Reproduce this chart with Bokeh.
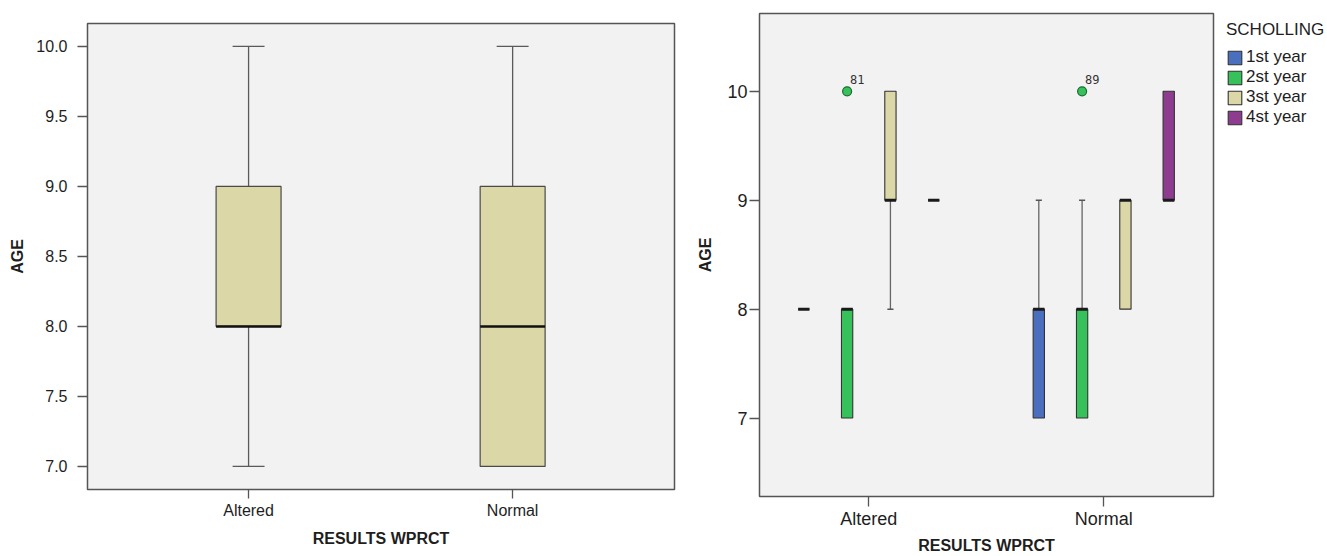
from bokeh.plotting import figure
from bokeh.layouts import row, column
from bokeh.models import FixedTicker, Range1d, Legend, LegendItem, ColumnDataSource
from bokeh.core.properties import value
from bokeh.embed import file_html
from bokeh.resources import INLINE

# ---------------- data ----------------
categories = ["Altered", "Normal"]

# left chart: AGE by RESULTS WPRCT
left_lower = [7, 7]
left_q1 = [8, 7]
left_median = [8, 8]
left_q3 = [9, 9]
left_upper = [10, 10]

# right chart: AGE by RESULTS WPRCT and SCHOLLING (rows = years, cols = categories)
years = ["1st year", "2st year", "3st year", "4st year"]
year_colors = ["#4b6fbf", "#37c15b", "#dbd7a7", "#8d3c90"]
r_lower = [[8, 7], [7, 7], [8, 8], [9, 9]]
r_q1 = [[8, 7], [7, 7], [9, 8], [9, 9]]
r_median = [[8, 8], [8, 8], [9, 9], [9, 9]]
r_q3 = [[8, 8], [8, 8], [10, 9], [9, 10]]
r_upper = [[8, 9], [8, 9], [10, 9], [9, 10]]

out_cat = ["Altered", "Normal"]
out_year = ["2st year", "2st year"]
out_age = [10, 10]
out_id = ["81", "89"]

left_ticks = [7.0, 7.5, 8.0, 8.5, 9.0, 9.5, 10.0]
right_ticks = [7, 8, 9, 10]

FONT = "Liberation Sans"
BG = "#f2f2f2"
TXT = "#1e1e1e"


def style(p, tick_size, ylab_std, ytick_out, ytick_std):
    p.background_fill_color = BG
    p.border_fill_color = "white"
    p.outline_line_color = "#555555"
    p.outline_line_width = 1.5
    p.grid.visible = False
    for ax in (p.xaxis[0], p.yaxis[0]):
        ax.axis_line_color = None
        ax.major_tick_line_color = "#555555"
        ax.major_tick_line_width = 1.3
        ax.minor_tick_line_color = None
        ax.major_tick_in = 0
        ax.major_label_text_font = FONT
        ax.major_label_text_font_size = tick_size
        ax.major_label_text_color = TXT
        ax.axis_label_text_font = FONT
        ax.axis_label_text_font_size = "16px"
        ax.axis_label_text_font_style = "bold"
        ax.axis_label_text_color = TXT
    p.yaxis.major_tick_out = ytick_out
    p.yaxis.major_label_standoff = ytick_std
    p.yaxis.axis_label_standoff = ylab_std
    p.xaxis.major_tick_out = 9
    p.xaxis.major_label_standoff = 3
    p.xaxis.axis_label_standoff = 8


# ---------------- left figure ----------------
p1 = figure(width=690, height=556, output_backend="svg", toolbar_location=None,
            x_range=Range1d(0.39, 2.613), y_range=Range1d(6.835, 10.164),
            min_border_left=87, min_border_right=16, min_border_top=23, min_border_bottom=67,
            x_axis_label="RESULTS WPRCT", y_axis_label="AGE")
style(p1, "16px", 7, 10, 10)
p1.xaxis.ticker = FixedTicker(ticks=[1, 2])
p1.xaxis.major_label_overrides = {1: categories[0], 2: categories[1]}
p1.yaxis.ticker = FixedTicker(ticks=left_ticks)
p1.yaxis.major_label_overrides = {t: f"{t:.1f}" for t in left_ticks}

lx = [i + 1 for i in range(len(categories))]
bw = 0.246
cw = 0.121
p1.segment(x0=lx, y0=left_q3, x1=lx, y1=left_upper, line_color="#5a5a5a", line_width=1.3)
p1.segment(x0=lx, y0=left_q1, x1=lx, y1=left_lower, line_color="#5a5a5a", line_width=1.3)
p1.segment(x0=[x - cw / 2 for x in lx], y0=left_upper, x1=[x + cw / 2 for x in lx], y1=left_upper,
           line_color="#5a5a5a", line_width=1.3)
p1.segment(x0=[x - cw / 2 for x in lx], y0=left_lower, x1=[x + cw / 2 for x in lx], y1=left_lower,
           line_color="#5a5a5a", line_width=1.3)
p1.vbar(x=lx, width=bw, bottom=left_q1, top=left_q3, fill_color="#dbd7a7",
        line_color="#4a4a4a", line_width=1.2)
p1.segment(x0=[x - bw / 2 for x in lx], y0=left_median, x1=[x + bw / 2 for x in lx], y1=left_median,
           line_color="#111111", line_width=2.5)

# ---------------- right figure ----------------
p2 = figure(width=527, height=556, output_backend="svg", toolbar_location=None,
            x_range=Range1d(0.535, 2.467), y_range=Range1d(6.28, 10.714),
            min_border_left=69, min_border_right=4, min_border_top=13, min_border_bottom=59,
            x_axis_label="RESULTS WPRCT", y_axis_label="AGE")
style(p2, "18px", 10, 10, 2)
p2.xaxis.ticker = FixedTicker(ticks=[1, 2])
p2.xaxis.major_label_overrides = {1: categories[0], 2: categories[1]}
p2.xaxis.major_label_standoff = 2
p2.xaxis.axis_label_standoff = 5
p2.xaxis.major_tick_out = 10
p2.yaxis.ticker = FixedTicker(ticks=right_ticks)

step = 0.1843
rbw = 0.048
rcw = 0.026
for yi, yname in enumerate(years):
    xs = [ci + 1 + (yi - 1.5) * step for ci in range(len(categories))]
    lo, q1, md, q3, up = r_lower[yi], r_q1[yi], r_median[yi], r_q3[yi], r_upper[yi]
    # whiskers
    p2.segment(x0=xs, y0=q3, x1=xs, y1=up, line_color="#666666", line_width=1.3)
    p2.segment(x0=xs, y0=q1, x1=xs, y1=lo, line_color="#666666", line_width=1.3)
    ux = [x for x, a, b in zip(xs, q3, up) if b > a]
    uy = [b for a, b in zip(q3, up) if b > a]
    p2.segment(x0=[x - rcw / 2 for x in ux], y0=uy, x1=[x + rcw / 2 for x in ux], y1=uy,
               line_color="#555555", line_width=1.5)
    dx = [x for x, a, b in zip(xs, q1, lo) if b < a]
    dy = [b for a, b in zip(q1, lo) if b < a]
    p2.segment(x0=[x - rcw / 2 for x in dx], y0=dy, x1=[x + rcw / 2 for x in dx], y1=dy,
               line_color="#555555", line_width=1.5)
    p2.vbar(x=xs, width=rbw, bottom=q1, top=q3, fill_color=year_colors[yi],
            line_color="#333333", line_width=1.1)
    p2.segment(x0=[x - rbw / 2 for x in xs], y0=md, x1=[x + rbw / 2 for x in xs], y1=md,
               line_color="#1a1a1a", line_width=3)

ox = [categories.index(c) + 1 + (years.index(y) - 1.5) * step for c, y in zip(out_cat, out_year)]
oc = [year_colors[years.index(y)] for y in out_year]
src = ColumnDataSource(dict(x=ox, y=out_age, c=oc, t=out_id))
p2.scatter("x", "y", source=src, size=9, fill_color="c", line_color="#1d6b33", line_width=1.2)
p2.text("x", "y", text="t", source=src, x_offset=3, y_offset=-7,
        text_font=value("DejaVu Sans Mono"), text_font_size="12px", text_color="#333333",
        text_baseline="bottom", text_align="left")

# ---------------- legend panel ----------------
p3 = figure(width=110, height=556, output_backend="svg", toolbar_location=None,
            x_range=Range1d(10, 11), y_range=Range1d(10, 11), x_axis_type=None, y_axis_type=None,
            min_border_left=9, min_border_right=0, min_border_top=20, min_border_bottom=0)
p3.outline_line_color = None
p3.grid.visible = False
p3.background_fill_color = "white"
p3.border_fill_color = "white"
items = []
for yi, yname in enumerate(years):
    # legend swatch renderer (its bar lies outside this panel's ranges)
    r = p3.vbar(x=[yi], bottom=[yi], top=[yi], width=0.1, fill_color=year_colors[yi],
                line_color="#333333", line_width=1.1)
    items.append(LegendItem(label=yname, renderers=[r]))

legend = Legend(items=items, title="SCHOLLING", location="top_left",
                title_text_font=FONT, title_text_font_size="17px", title_text_font_style="normal",
                title_text_color=TXT, title_standoff=7,
                label_text_font=FONT, label_text_font_size="17px", label_text_color=TXT,
                glyph_width=17, glyph_height=17, label_height=17, label_standoff=3, spacing=0,
                padding=0, margin=0, border_line_color=None, background_fill_alpha=0)
p3.add_layout(legend)

layout = row(column(p1), column(p2), column(p3))
open("out.html", "w").write(file_html(layout, INLINE))
